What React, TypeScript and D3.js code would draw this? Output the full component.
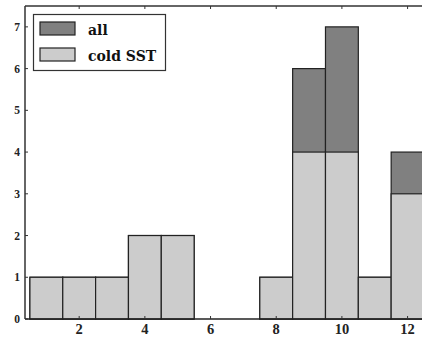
import React from "react";
import * as d3 from "d3";

const bins = [1, 2, 3, 4, 5, 6, 7, 8, 9, 10, 11, 12];
const allCounts = [1, 1, 1, 2, 2, 0, 0, 1, 6, 7, 1, 4];
const coldCounts = [1, 1, 1, 2, 2, 0, 0, 1, 4, 4, 1, 3];
const xTicks = [2, 4, 6, 8, 10, 12];
const yTicks = [0, 1, 2, 3, 4, 5, 6, 7];
const legendLabels = ["all", "cold SST"];

const W = 422, H = 338;
const left = 25, top = 6, bottom = 319, right = 424;
const FONT = "'DejaVu Serif', serif";
const TFONT = "'Liberation Serif', serif";

export default function App() {
  const x = d3.scaleLinear().domain([0.35, 12.5]).range([left, right]);
  const y = d3.scaleLinear().domain([0, 7.5]).range([bottom, top]);
  const colors = ["#808080", "#cccccc"];
  const series = [allCounts, coldCounts];
  return (
    <svg width={W} height={H} style={{ position: "fixed", left: 0, top: 0, overflow: "hidden", background: "#fff" }}>
      <rect x={0} y={0} width={W} height={H} fill="#fff" />
      {series.map((vals, si) =>
        bins.map((b, i) =>
          vals[i] > 0 ? (
            <rect key={`${si}-${i}`} x={x(b - 0.5)} y={y(vals[i])} width={x(b + 0.5) - x(b - 0.5)} height={y(0) - y(vals[i])}
              fill={colors[si]} stroke="#222" strokeWidth={1.2} />
          ) : null
        )
      )}
      <line x1={left} x2={W} y1={top} y2={top} stroke="#333" strokeWidth={1.5} />
      <line x1={left} x2={left} y1={top} y2={bottom} stroke="#333" strokeWidth={1.5} />
      <line x1={left} x2={W} y1={bottom} y2={bottom} stroke="#222" strokeWidth={1.5} />
      {xTicks.map((t) => (
        <g key={t}>
          <line x1={x(t)} x2={x(t)} y1={bottom} y2={bottom - 3} stroke="#333" strokeWidth={1} />
          <line x1={x(t)} x2={x(t)} y1={top} y2={top + 3} stroke="#333" strokeWidth={1} />
          <text x={x(t)} y={bottom + 15} textAnchor="middle" fontFamily={TFONT} fontWeight="bold" fontSize={14.5} fill="#222">{t}</text>
        </g>
      ))}
      {yTicks.map((t) => (
        <g key={t}>
          <line x1={left} x2={left + 3} y1={y(t)} y2={y(t)} stroke="#333" strokeWidth={1} />
          <text x={left - 5} y={y(t) + 4} textAnchor="end" fontFamily={TFONT} fontWeight="bold" fontSize={11.5} fill="#222">{t}</text>
        </g>
      ))}
      <rect x={33.5} y={14.5} width={132} height={56} fill="#fff" stroke="#333" strokeWidth={1.2} />
      {legendLabels.map((l, i) => (
        <g key={l}>
          <rect x={40} y={22 + i * 26} width={35} height={13} fill={colors[i]} stroke="#222" strokeWidth={1.2} />
          <text x={88} y={34.5 + i * 26} fontFamily={FONT} fontWeight="bold" fontSize={14} fill="#111">{l}</text>
        </g>
      ))}
    </svg>
  );
}
